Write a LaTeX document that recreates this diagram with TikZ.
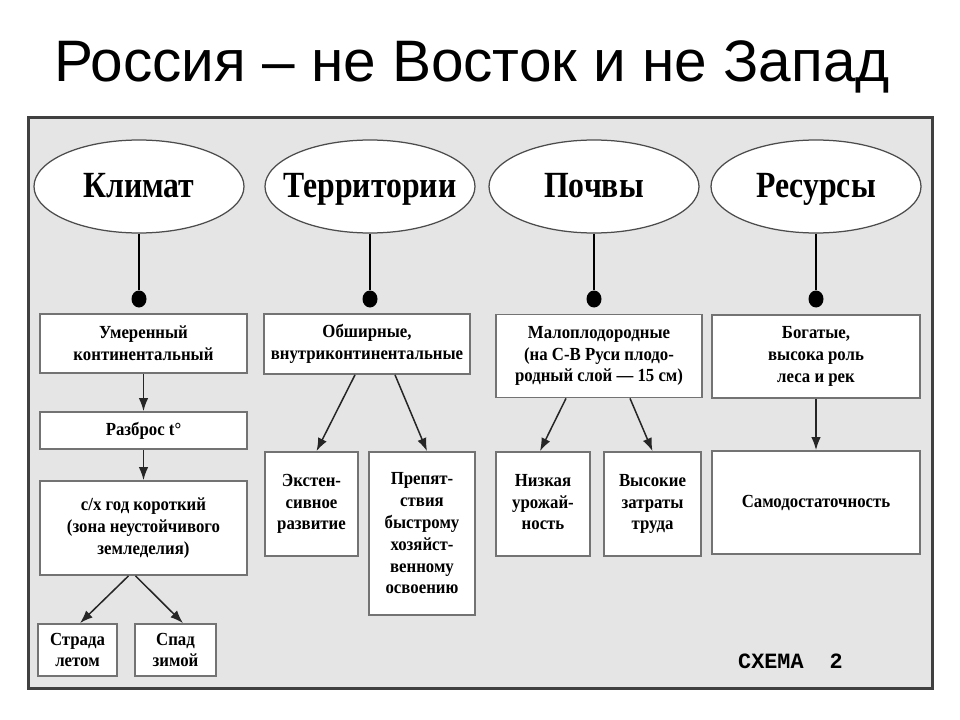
\documentclass[tikz,border=0pt]{standalone}
\usepackage{fontspec}
\setmainfont{Liberation Serif}
\newfontfamily\titolofont{Liberation Sans}
\newfontfamily\schemafont{Liberation Mono}
\newfontfamily\strettofont{Liberation Serif}[FakeStretch=0.91]
\newfontfamily\temafont{Liberation Serif}[FakeStretch=0.86]
\usetikzlibrary{shapes.geometric, arrows.meta}

\begin{document}
\begin{tikzpicture}[x=0.2mm, y=-0.2mm,
    tema/.style={ellipse, draw=black!70, fill=white, line width=0.25mm, minimum width=42mm, minimum height=18.6mm, inner sep=0pt,
        label={[font=\temafont\fontsize{21}{24}\selectfont\bfseries, text height=5mm, text depth=1.4mm, yshift=-0.3mm]center:#1}},
    riquadro/.style={draw=black!55, fill=white, line width=0.35mm, inner sep=1pt, align=center, font=\strettofont\fontsize{10.5}{12.4}\selectfont\bfseries},
    punto/.style={ellipse, fill=black, inner sep=0pt, minimum width=3mm, minimum height=3.4mm},
    freccia/.style={-{Latex[length=2.6mm,width=1.9mm]}, line width=0.3mm, black!85}]
        \useasboundingbox (0,0) rectangle (960,720);
        % titolo e cornice
            \node[anchor=base] (titolo) at (472,82) {\titolofont\fontsize{33.3}{36}\selectfont Россия – не Восток и не Запад};
            \draw[draw=black!75, fill=black!10, line width=0.6mm] (28,118) rectangle (932,688);
            \node[anchor=base west, font=\schemafont\fontsize{12.4}{15}\selectfont\bfseries] (schema) at (732,668) {СХЕМА~~2};
        % temi
            \node[tema=Климат] (clima) at (139,186.5) {};
            \node[tema=Территории] (terr) at (370,186.5) {};
            \node[tema=Почвы] (suolo) at (594,186.5) {};
            \node[tema=Ресурсы] (risorse) at (816,186.5) {};
            \foreach \t in {clima, terr, suolo, risorse}{
                \node[punto] (p-\t) at (\t |- 0,299) {};
                \draw[line width=0.25mm] (\t.south) -- (p-\t);
            }
        % clima
            \node[riquadro, minimum width=41.4mm, minimum height=11.8mm] (moderato) at (143.5,343.5) {Умеренный\\континентальный};
            \node[riquadro, minimum width=41.4mm, minimum height=7.4mm] (escursione) at (143.5,430.5) {Разброс t°};
            \node[riquadro, minimum width=41.4mm, minimum height=18.8mm] (anno) at (143.5,528) {с/х год короткий\\(зона неустойчивого\\земледелия)};
            \node[riquadro, minimum width=15.8mm, minimum height=10.4mm] (estate) at (77.5,650) {Страда\\летом};
            \node[riquadro, minimum width=16.2mm, minimum height=10.4mm] (inverno) at (175.5,650) {Спад\\зимой};
            \draw[freccia] (moderato) -- (escursione);
            \draw[freccia] (escursione) -- (anno);
            \draw[freccia] ([xshift=-3mm]anno.south) -- ([xshift=0.5mm]estate.north);
            \draw[freccia] ([xshift=-1.6mm]anno.south) -- ([xshift=1.5mm]inverno.north);
        % territori
            \node[riquadro, minimum width=41.2mm, minimum height=12mm] (vasti) at (367,344) {Обширные,\\внутриконтинентальные};
            \node[riquadro, minimum width=18.6mm, minimum height=20.8mm] (estensivo) at (311.5,504) {Экстен-\\сивное\\развитие};
            \node[riquadro, minimum width=21.2mm, minimum height=32.6mm] (ostacoli) at (422,533.5) {Препят-\\ствия\\быстрому\\хозяйст-\\венному\\освоению};
            \draw[freccia] ([xshift=-2.4mm]vasti.south) -- ([xshift=1mm]estensivo.north);
            \draw[freccia] ([xshift=5.6mm]vasti.south) -- ([xshift=1mm]ostacoli.north);
        % suoli
            \node[riquadro, minimum width=41.2mm, minimum height=16.6mm] (poveri) at (599,356) {Малоплодородные\\(на С-В Руси плодо-\\родный слой — 15 см)};
            \node[riquadro, minimum width=18.8mm, minimum height=20.8mm] (resa) at (543,504) {Низкая\\урожай-\\ность\vphantom{у}};
            \node[riquadro, minimum width=19.4mm, minimum height=20.8mm] (lavoro) at (652.5,504) {Высокие\\затраты\\труда};
            \draw[freccia] ([xshift=-6.6mm]poveri.south) -- ([xshift=-0.6mm]resa.north);
            \draw[freccia] ([xshift=6.2mm]poveri.south) -- (lavoro.north);
        % risorse
            \node[riquadro, minimum width=41.6mm, minimum height=16.6mm] (ricche) at (816,356.5) {Богатые,\\высока роль\\леса и рек};
            \node[riquadro, minimum width=41.6mm, minimum height=20.6mm] (autarchia) at (816,502.5) {Самодостаточность};
            \draw[freccia] (ricche) -- (autarchia);
\end{tikzpicture}
\end{document}
